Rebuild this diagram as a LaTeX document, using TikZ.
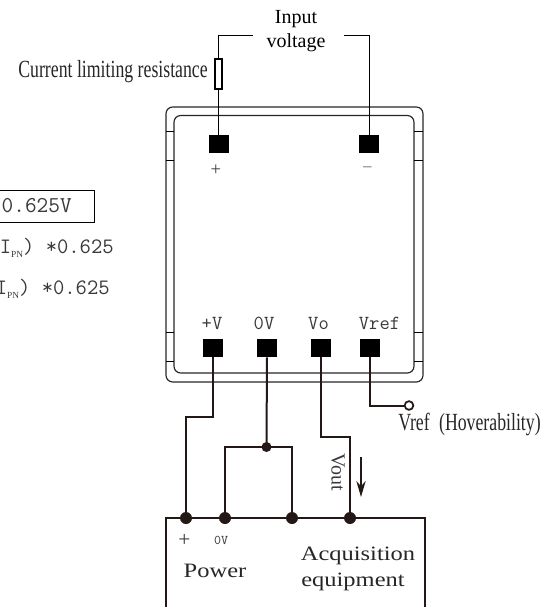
\documentclass[tikz,border=0pt]{standalone}
\usepackage{fontspec}
\setmainfont{Liberation Serif}
\newfontfamily\narrowfont[FakeStretch=0.72]{Liberation Serif}
\newfontfamily\widefont[FakeStretch=1.2]{Liberation Serif}
\usetikzlibrary{arrows.meta}
\definecolor{wirecol}{HTML}{231815}
\definecolor{printcol}{HTML}{3A3A3A}
\tikzset{
    pad/.style={rectangle, fill=black, inner sep=0pt, minimum width=15pt, minimum height=13.5pt},
    wire/.style={draw=wirecol, line width=1.5pt},
    thin wire/.style={draw=black, line width=0.7pt},
    shell/.style={draw=black!85, line width=0.85pt, rounded corners=5pt},
    dot/.style={circle, fill=wirecol, inner sep=0pt, minimum size=9pt},
    pinlabel/.style={font=\ttfamily\fontsize{15}{15}\selectfont, text=printcol, inner sep=0pt},
    serial/.style={font=\ttfamily\fontsize{16.5}{16.5}\selectfont, text=printcol, inner sep=0pt, anchor=east}
}
\begin{document}
\begin{tikzpicture}[x=0.75pt, y=-0.75pt]
    \useasboundingbox (0,0) rectangle (546,607);

    % module outline
    \draw [shell] (166,382) rectangle (423,107);
    \draw [shell] (174,373) rectangle (414,115.5);
    \foreach \y in {131, 160, 332, 361} {
        \draw [line width=0.7pt] (166,\y) -- (174,\y);
        \draw [line width=0.7pt] (414,\y) -- (423,\y);
    }

    % draw pads
    \foreach \x/\y/\t in {218.5/144/pl, 369/144/mi, 213/348/pv, 267/348/gn, 321/348/vo, 370/348/rf}
        \node [pad] (p\t) at (\x, \y) {};

    % pad labels
    \node [text=printcol, font=\fontsize{14}{14}\selectfont] (lpl) at (216,170) {+};
    \node [text=printcol!70, font=\fontsize{14}{14}\selectfont] (lmi) at (367.5,170) {−};
    \foreach \x/\t/\s in {212/pv/+V, 264/gn/0V, 318.5/vo/Vo, 379.5/rf/Vref}
        \node [pinlabel] (l\t) at (\x, 323) {\s};

    % input side
    \node [align=center, font=\fontsize{15}{18}\selectfont, inner sep=0pt] (input) at (296,31) {Input\\voltage};
    \coordinate (inl) at (253,35);
    \coordinate (inr) at (344,35);
    \node [draw, line width=1.3pt, fill=white, inner sep=0pt, minimum width=5.5pt, minimum height=22pt] (res) at (218.5,74) {};
    \node [anchor=east, inner sep=0pt, font=\narrowfont\fontsize{18.5}{18.5}\selectfont, text=black!85] (reslabel) at (208,72) {Current limiting resistance};
    \draw [thin wire] (inl) -| (res.north);
    \draw [thin wire] (res.south) -- (ppl.north);
    \draw [thin wire] (inr) -| (pmi.north);

    % equipment box
    \coordinate (bl) at (166,607);
    \coordinate (br) at (425,607);
    \foreach \x/\t in {186/a, 225/b, 292/c, 350/d}
        \node [dot] (j\t) at (\x, 518) {};
    \node [dot, minimum size=7.5pt] (jt) at (266.5,447) {};
    \draw [wire] (bl) |- (ja.center) -- (jb.center) -- (jc.center) -- (jd.center) -| (br);

    % draw wires
    \draw [wire] (ppv.south) |- (186,417) -- (ja.center);
    \draw [wire] (pgn.south) -- (jt.center);
    \draw [wire] (jb.center) |- (jt.center) -| (jc.center);
    \draw [wire] (pvo.south) |- (350,437) -- (jd.center);

    % reference output
    \node [circle, draw=wirecol, line width=1.3pt, fill=white, inner sep=0pt, minimum size=6.5pt] (vrefpin) at (409,405.5) {};
    \draw [wire] (prf.south) |- (vrefpin.west);
    \node [anchor=west, inner sep=0pt, font=\narrowfont\fontsize{18.5}{18.5}\selectfont, text=black!85] (vreflabel) at (398,424) {Vref\hspace{0.38em}(Hoverability)};

    % output arrow
    \coordinate (arra) at (361,457);
    \coordinate (arrb) at (361,497);
    \draw [wirecol, line width=1.1pt, -{Stealth[length=12pt, width=7pt]}] (arra) -- (arrb);
    \node [rotate=-90, inner sep=0pt, font=\fontsize{15}{15}\selectfont, text=printcol] (vout) at (338,472) {Vout};

    % equipment labels
    \node [text=printcol, font=\fontsize{16}{16}\selectfont] (eplus) at (184.5,540) {+};
    \node [text=printcol, font=\ttfamily\fontsize{10}{10}\selectfont, inner sep=0pt] (ezero) at (221,540) {0V};
    \node [font=\widefont\fontsize{15.3}{15.3}\selectfont, text=black!85, inner sep=0pt] (epower) at (215,571) {Power};
    \node [font=\widefont\fontsize{15.3}{15.3}\selectfont, text=black!85, inner sep=0pt] (eacq) at (358,556) {Acquisition};
    \node [font=\widefont\fontsize{15.3}{15.3}\selectfont, text=black!85, inner sep=0pt] (eequ) at (353,582) {equipment};

    % left hand notes, cut by the page edge
    \node [draw, line width=0.8pt, inner sep=0pt, anchor=east, minimum width=90pt, minimum height=24.5pt] (refbox) at (95,206.5) {};
    \node [serial, font=\ttfamily\fontsize{17}{17}\selectfont] (reftext) at (72,206) {0.625V};
    \node [serial] (note1) at (114,248) {I\raisebox{-3pt}{\rmfamily\fontsize{7}{7}\selectfont PN}) *0.625};
    \node [serial] (note2) at (110,289) {I\raisebox{-3pt}{\rmfamily\fontsize{7}{7}\selectfont PN}) *0.625};
\end{tikzpicture}
\end{document}
